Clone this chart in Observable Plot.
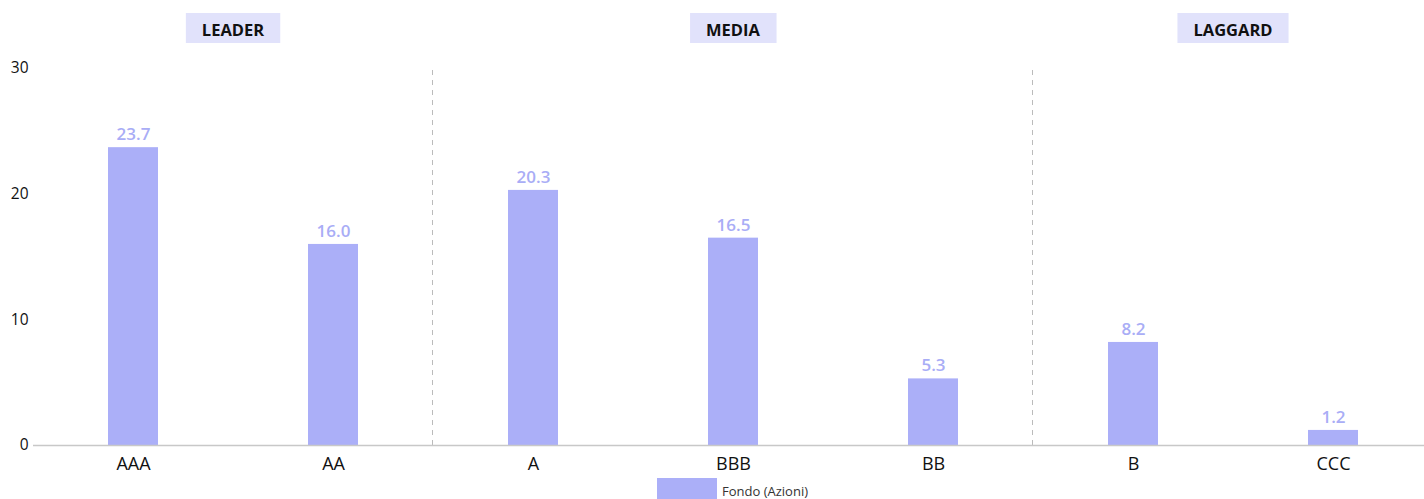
<!DOCTYPE html>
<html>
<head>
<meta charset="utf-8">
<script src="https://cdn.jsdelivr.net/npm/d3@7"></script>
<script src="https://cdn.jsdelivr.net/npm/@observablehq/plot@0.6"></script>
<style>
  html, body { margin: 0; padding: 0; background: #fff; }
  body { width: 1424px; height: 499px; overflow: hidden; font-family: "Open Sans", sans-serif; }
  #legend { position: relative; height: 23px; }
  .sw { position: absolute; left: 657px; top: 2px; width: 60px; height: 21px; background: #abaff8; }
  .lt { position: absolute; left: 722px; top: 6px; font-size: 13px; color: #333; font-family: "Open Sans", sans-serif; white-space: nowrap; }
</style>
</head>
<body>
<div id="chart"></div>
<div id="legend"><div class="sw"></div><div class="lt">Fondo (Azioni)</div></div>
<script>
const ratings = ["AAA", "AA", "A", "BBB", "BB", "B", "CCC"];
const values = [23.7, 16.0, 20.3, 16.5, 5.3, 8.2, 1.2];
const groupNames = ["LEADER", "MEDIA", "LAGGARD"];
const groupFirst = ["AAA", "A", "B"];
const groupLast = ["AA", "BB", "CCC"];
const separators = ["A", "B"];
const yTicks = [0, 10, 20, 30];

const data = ratings.map((r, i) => ({rating: r, value: values[i]}));
const groups = groupNames.map((g, i) => ({name: g, first: groupFirst[i], last: groupLast[i]}));

const barColor = "#abaff8";

const plot = Plot.plot({
  width: 1424,
  height: 476,
  marginTop: 68,
  marginBottom: 31,
  marginLeft: 33,
  marginRight: 0,
  style: {fontFamily: "'Open Sans', sans-serif", background: "#fff", overflow: "visible"},
  x: {domain: ratings, range: [33, 1433], paddingInner: 0.75, paddingOuter: 0.375, label: null},
  y: {domain: [0, 30], range: [445, 68], label: null},
  marks: [
    Plot.axisX({tickSize: 0, tickPadding: 12, fontSize: 18, fill: "#111", label: null}),
    Plot.axisY({ticks: yTicks, tickSize: 0, tickPadding: 5, fontSize: 15.5, fill: "#111", label: null}),
    Plot.ruleX(separators, {x: d => d, dx: -101, y1: 0, y2: 30, stroke: "#bbb", strokeDasharray: "5,5", strokeWidth: 1}),
    Plot.barY(data, {x: "rating", y: "value", fill: barColor}),
    Plot.ruleY([0], {stroke: "#c8c8c8", strokeWidth: 1.5}),
    Plot.text(data, {x: "rating", y: "value", text: d => d.value.toFixed(1), dy: -13, fill: "#a9adf6", fontSize: 17, fontWeight: 600})
  ]
});

document.getElementById("chart").appendChild(plot);

// group header labels, positioned via the plot's x scale
const xs = plot.scale("x");
const svg = d3.select(plot);
const gg = svg.append("g").attr("font-family", "'Open Sans', sans-serif");
groups.forEach(g => {
  const cx = (xs.apply(g.first) + xs.apply(g.last)) / 2 + xs.bandwidth / 2;
  const t = gg.append("text")
    .attr("x", cx).attr("y", 29)
    .attr("text-anchor", "middle")
    .attr("dominant-baseline", "central")
    .attr("font-size", 16.5)
    .attr("font-weight", "bold")
    .attr("fill", "#111")
    .text(g.name);
  const bb = t.node().getBBox();
  const padX = 16;
  gg.insert("rect", () => t.node())
    .attr("x", bb.x - padX)
    .attr("y", 13)
    .attr("width", bb.width + 2 * padX)
    .attr("height", 30)
    .attr("fill", "#e1e2fb");
});
</script>
</body>
</html>
